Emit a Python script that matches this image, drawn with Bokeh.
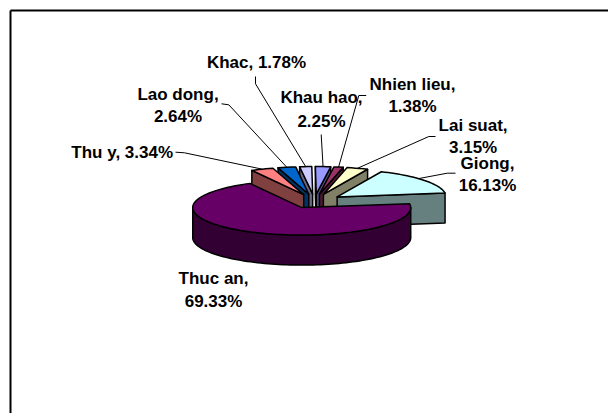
import math

from bokeh.embed import file_html
from bokeh.models import Range1d
from bokeh.plotting import figure
from bokeh.resources import INLINE
from bokeh.core.properties import value

# Cost structure, listed counter-clockwise starting from the right-hand side of the pie
categories = ["Giong", "Lai suat", "Nhien lieu", "Khau hao", "Khac", "Lao dong", "Thu y", "Thuc an"]
shares = [16.13, 3.15, 1.38, 2.25, 1.78, 2.64, 3.34, 69.33]
top_colors = ["#CCFFFF", "#FFFFCC", "#993366", "#9999FF", "#CCCCFF", "#0066CC", "#FF8080", "#660066"]
side_colors = ["#668080", "#808066", "#4D1933", "#4D4D80", "#666680", "#003366", "#804040", "#330033"]

# Label lines and their centres, in page pixels
label_lines = [
    ["Giong,", "16.13%"], ["Lai suat,", "3.15%"], ["Nhien lieu,", "1.38%"], ["Khau hao,", "2.25%"],
    ["Khac, 1.78%"], ["Lao dong,", "2.64%"], ["Thu y, 3.34%"], ["Thuc an,", "69.33%"],
]
label_x = [487, 472.6, 412, 321, 256, 177.5, 121.7, 213]
label_y = [[163, 184.5], [125, 147], [84, 106], [97, 120.5], [62], [94, 116], [152], [278, 300.5]]

# Leader line paths from beside each label towards its slice
leader_paths = [
    [(455, 172.7), (446.7, 172.7)],
    [(435, 136), (428.3, 136)],
    [(365.7, 95), (358.3, 95)],
    [(320.7, 134)],
    [(255, 76), (255, 83.3)],
    [(221, 103.3), (228.3, 104.3)],
    [(175, 151.7), (184, 152.3)],
    [],
]
leader_rim_fraction = [0.42, 0.5, 0.5, 0.5, 0.5, 0.5, 0.5, 0.5]

# Pie projection
CX, CY = 314.0, 200.7
RX, RY = 109.0, 27.5
DEPTH = 30.0
EXPLODE = 0.26
START_ANGLE = 8.0

p = figure(width=608, height=413, output_backend="svg", toolbar_location=None,
           x_range=Range1d(0, 608), y_range=Range1d(413, 0),
           min_border=0, outline_line_color=None)
p.axis.visible = False
p.grid.visible = False
p.background_fill_color = "white"
p.border_fill_color = "white"

# Chart frame runs off the right and bottom of the page
p.line([10, 10], [413, 10], line_color="black", line_width=2)
p.line([10, 608], [10, 10], line_color="black", line_width=2)


def rim(apex, deg, drop=0.0):
    t = math.radians(deg)
    return apex[0] + RX * math.cos(t), apex[1] - RY * math.sin(t) + drop


def arc(apex, a, b, drop=0.0):
    n = max(2, int(abs(b - a) / 2) + 1)
    return [rim(apex, a + (b - a) * i / (n - 1), drop) for i in range(n)]


def draw(pts, fill):
    p.patch([q[0] for q in pts], [q[1] for q in pts], fill_color=fill,
            line_color="black", line_width=1.5, line_join="round")


slices = []
angle = START_ANGLE
for name, share, top, side in zip(categories, shares, top_colors, side_colors):
    sweep = share * 3.6
    mid = math.radians(angle + sweep / 2)
    apex = (CX + EXPLODE * RX * math.cos(mid), CY - EXPLODE * RY * math.sin(mid))
    slices.append(dict(a=angle, b=angle + sweep, apex=apex, top=top, side=side, depth_key=math.sin(mid)))
    angle += sweep

# Paint from the back of the pie to the front
for s in sorted(slices, key=lambda item: -item["depth_key"]):
    a, b, apex = s["a"], s["b"], s["apex"]
    for edge, visible in ((a, math.cos(math.radians(a)) > 0), (b, math.cos(math.radians(b)) < 0)):
        if visible:
            draw([apex, rim(apex, edge), rim(apex, edge, DEPTH), (apex[0], apex[1] + DEPTH)], s["side"])
    # Outer wall exists only on the half of the rim facing the viewer
    lo, hi = max(a, 180.0), min(b, 360.0)
    if hi > lo:
        draw(arc(apex, lo, hi) + arc(apex, hi, lo, DEPTH), s["side"])
    draw([apex] + arc(apex, a, b), s["top"])

# Leader lines end on the rim of their slices
for s, path, frac in zip(slices, leader_paths, leader_rim_fraction):
    if path:
        end = rim(s["apex"], s["a"] + (s["b"] - s["a"]) * (1 - frac))
        pts = path + [end]
        p.line([q[0] for q in pts], [q[1] for q in pts], line_color="black", line_width=1)

# Category labels
for lines, x, ys in zip(label_lines, label_x, label_y):
    for line, y in zip(lines, ys):
        p.text([x], [y], text=[line], text_align="center", text_baseline="middle",
               text_font=value("Liberation Sans"), text_font_style="bold",
               text_font_size="17px", text_color="black")

open("out.html", "w").write(file_html(p, INLINE))
